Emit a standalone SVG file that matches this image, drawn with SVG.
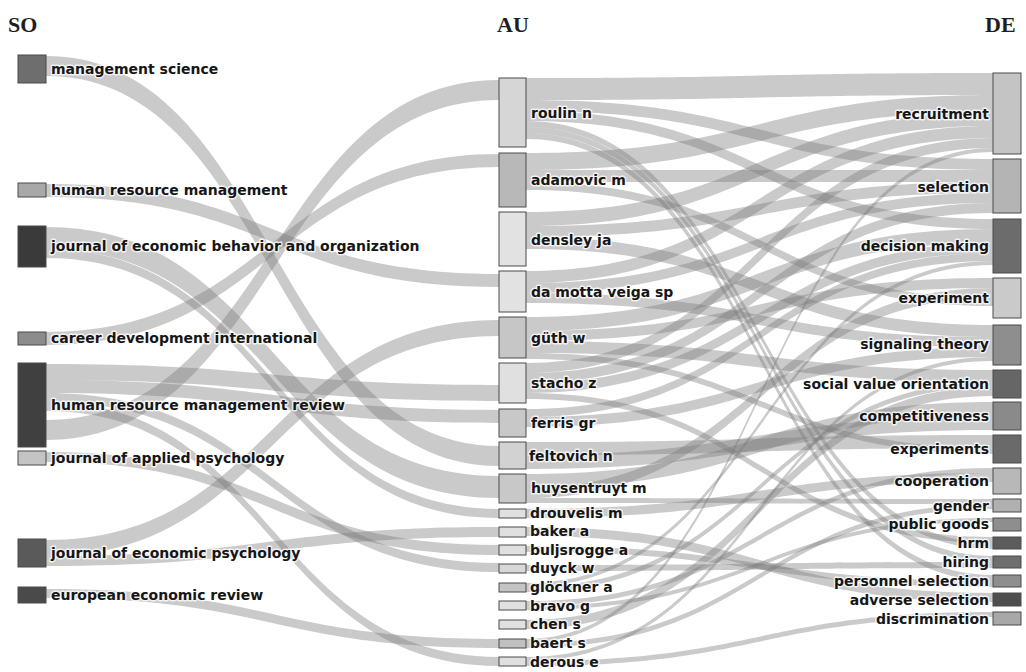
<svg xmlns="http://www.w3.org/2000/svg" width="1026" height="672" viewBox="0 0 1026 672">
<style>
.flow{fill:#7a7a7a;fill-opacity:0.4;stroke:none}
.node rect{stroke:#4a4a4a;stroke-width:1}
.lbl{font-family:"DejaVu Sans",Verdana,sans-serif;font-weight:bold;font-size:14px;fill:#161616;stroke:#ffffff;stroke-opacity:0.75;stroke-width:3px;paint-order:stroke;stroke-linejoin:round}
.end{text-anchor:end}
.title{font-family:"Liberation Serif","Times New Roman",serif;font-size:22px;font-weight:bold;fill:#1e1e1e}
</style>
<rect width="1026" height="672" fill="#ffffff"/>
<text class="title" x="8" y="32">SO</text>
<text class="title" x="497" y="32">AU</text>
<text class="title" x="985" y="32">DE</text>
<g id="connectors">
<path class="flow" d="M46,56C272,56 272,446 499,446L499,466C272,466 272,76 46,76Z"/>
<path class="flow" d="M46,184C272,184 272,274 499,274L499,287C272,287 272,197 46,197Z"/>
<path class="flow" d="M46,227C272,227 272,476 499,476L499,498C272,498 272,249 46,249Z"/>
<path class="flow" d="M46,249C272,249 272,509 499,509L499,518C272,518 272,258 46,258Z"/>
<path class="flow" d="M46,332C272,332 272,154 499,154L499,167C272,167 272,345 46,345Z"/>
<path class="flow" d="M46,364C272,364 272,385 499,385L499,401C272,401 272,380 46,380Z"/>
<path class="flow" d="M46,380C272,380 272,410 499,410L499,423C272,423 272,393 46,393Z"/>
<path class="flow" d="M46,393C272,393 272,563 499,563L499,572C272,572 272,402 46,402Z"/>
<path class="flow" d="M46,402C272,402 272,657 499,657L499,666C272,666 272,411 46,411Z"/>
<path class="flow" d="M46,420C272,420 272,80 499,80L499,100C272,100 272,440 46,440Z"/>
<path class="flow" d="M46,452C272,452 272,545 499,545L499,555C272,555 272,462 46,462Z"/>
<path class="flow" d="M46,540C272,540 272,320 499,320L499,336C272,336 272,556 46,556Z"/>
<path class="flow" d="M46,556C272,556 272,527 499,527L499,537C272,537 272,566 46,566Z"/>
<path class="flow" d="M46,589C272,589 272,639 499,639L499,648C272,648 272,598 46,598Z"/>
<path class="flow" d="M526,78C760,78 760,73 993,73L993,95C760,95 760,100 526,100Z"/>
<path class="flow" d="M526,100C760,100 760,159 993,159L993,170C760,170 760,111 526,111Z"/>
<path class="flow" d="M526,111C760,111 760,219 993,219L993,229C760,229 760,121 526,121Z"/>
<path class="flow" d="M526,121C760,121 760,543 993,543L993,549C760,549 760,127 526,127Z"/>
<path class="flow" d="M526,127C760,127 760,556 993,556L993,562C760,562 760,133 526,133Z"/>
<path class="flow" d="M526,133C760,133 760,575 993,575L993,581C760,581 760,139 526,139Z"/>
<path class="flow" d="M526,153C760,153 760,95 993,95L993,112C760,112 760,170 526,170Z"/>
<path class="flow" d="M526,170C760,170 760,170 993,170L993,182C760,182 760,182 526,182Z"/>
<path class="flow" d="M526,182C760,182 760,298 993,298L993,306C760,306 760,190 526,190Z"/>
<path class="flow" d="M526,212C760,212 760,112 993,112L993,126C760,126 760,226 526,226Z"/>
<path class="flow" d="M526,226C760,226 760,182 993,182L993,193C760,193 760,237 526,237Z"/>
<path class="flow" d="M526,237C760,237 760,325 993,325L993,337C760,337 760,249 526,249Z"/>
<path class="flow" d="M526,271C760,271 760,126 993,126L993,138C760,138 760,283 526,283Z"/>
<path class="flow" d="M526,283C760,283 760,193 993,193L993,203C760,203 760,293 526,293Z"/>
<path class="flow" d="M526,293C760,293 760,337 993,337L993,347C760,347 760,303 526,303Z"/>
<path class="flow" d="M526,317C760,317 760,229 993,229L993,243C760,243 760,331 526,331Z"/>
<path class="flow" d="M526,331C760,331 760,278 993,278L993,288C760,288 760,341 526,341Z"/>
<path class="flow" d="M526,341C760,341 760,370 993,370L993,382C760,382 760,353 526,353Z"/>
<path class="flow" d="M526,353C760,353 760,448 993,448L993,454C760,454 760,359 526,359Z"/>
<path class="flow" d="M526,363C760,363 760,138 993,138L993,148C760,148 760,373 526,373Z"/>
<path class="flow" d="M526,373C760,373 760,203 993,203L993,213C760,213 760,383 526,383Z"/>
<path class="flow" d="M526,383C760,383 760,243 993,243L993,253C760,253 760,393 526,393Z"/>
<path class="flow" d="M526,393C760,393 760,537 993,537L993,543C760,543 760,399 526,399Z"/>
<path class="flow" d="M526,409C760,409 760,253 993,253L993,261C760,261 760,417 526,417Z"/>
<path class="flow" d="M526,417C760,417 760,347 993,347L993,357C760,357 760,427 526,427Z"/>
<path class="flow" d="M526,442C760,442 760,435 993,435L993,448C760,448 760,455 526,455Z"/>
<path class="flow" d="M526,455C760,455 760,416 993,416L993,430C760,430 760,469 526,469Z"/>
<path class="flow" d="M526,474C760,474 760,402 993,402L993,416C760,416 760,488 526,488Z"/>
<path class="flow" d="M526,488C760,488 760,288 993,288L993,298C760,298 760,498 526,498Z"/>
<path class="flow" d="M526,498C760,498 760,499 993,499L993,504C760,504 760,503 526,503Z"/>
<path class="flow" d="M526,509C760,509 760,473 993,473L993,482C760,482 760,518 526,518Z"/>
<path class="flow" d="M526,527C760,527 760,593 993,593L993,602C760,602 760,536 526,536Z"/>
<path class="flow" d="M526,546C760,546 760,581 993,581L993,587C760,587 760,552 526,552Z"/>
<path class="flow" d="M526,565C760,565 760,562 993,562L993,568C760,568 760,571 526,571Z"/>
<path class="flow" d="M526,583C760,583 760,261 993,261L993,265C760,265 760,587 526,587Z"/>
<path class="flow" d="M526,587C760,587 760,382 993,382L993,387C760,387 760,592 526,592Z"/>
<path class="flow" d="M526,601C760,601 760,468 993,468L993,473C760,473 760,606 526,606Z"/>
<path class="flow" d="M526,606C760,606 760,518 993,518L993,522C760,522 760,610 526,610Z"/>
<path class="flow" d="M526,620C760,620 760,387 993,387L993,396C760,396 760,629 526,629Z"/>
<path class="flow" d="M526,639C760,639 760,148 993,148L993,152C760,152 760,643 526,643Z"/>
<path class="flow" d="M526,643C760,643 760,504 993,504L993,509C760,509 760,648 526,648Z"/>
<path class="flow" d="M526,657C760,657 760,357 993,357L993,361C760,361 760,661 526,661Z"/>
<path class="flow" d="M526,661C760,661 760,612 993,612L993,617C760,617 760,666 526,666Z"/>
</g>
<g id="so-management-science" class="node"><rect x="18" y="55" width="28" height="28" fill="#6e6e6e"/><text class="lbl" x="51" y="74">management science</text></g>
<g id="so-human-resource-management" class="node"><rect x="18" y="183" width="28" height="14" fill="#a8a8a8"/><text class="lbl" x="51" y="195">human resource management</text></g>
<g id="so-jebo" class="node"><rect x="18" y="226" width="28" height="41" fill="#3a3a3a"/><text class="lbl" x="51" y="251">journal of economic behavior and organization</text></g>
<g id="so-career-development-international" class="node"><rect x="18" y="332" width="28" height="13" fill="#8c8c8c"/><text class="lbl" x="51" y="343">career development international</text></g>
<g id="so-hrmr" class="node"><rect x="18" y="363" width="28" height="84" fill="#404040"/><text class="lbl" x="51" y="410">human resource management review</text></g>
<g id="so-jap" class="node"><rect x="18" y="451" width="28" height="14" fill="#c4c4c4"/><text class="lbl" x="51" y="463">journal of applied psychology</text></g>
<g id="so-jep" class="node"><rect x="18" y="539" width="28" height="28" fill="#5a5a5a"/><text class="lbl" x="51" y="558">journal of economic psychology</text></g>
<g id="so-eer" class="node"><rect x="18" y="587" width="28" height="16" fill="#4a4a4a"/><text class="lbl" x="51" y="600">european economic review</text></g>
<g id="au-roulin" class="node"><rect x="499" y="78" width="27" height="69" fill="#d6d6d6"/><text class="lbl" x="531" y="118">roulin n</text></g>
<g id="au-adamovic" class="node"><rect x="499" y="153" width="27" height="54" fill="#b8b8b8"/><text class="lbl" x="531" y="185">adamovic m</text></g>
<g id="au-densley" class="node"><rect x="499" y="212" width="27" height="54" fill="#e2e2e2"/><text class="lbl" x="531" y="245">densley ja</text></g>
<g id="au-damotta" class="node"><rect x="499" y="271" width="27" height="41" fill="#e2e2e2"/><text class="lbl" x="531" y="297">da motta veiga sp</text></g>
<g id="au-guth" class="node"><rect x="499" y="317" width="27" height="41" fill="#c6c6c6"/><text class="lbl" x="531" y="343">güth w</text></g>
<g id="au-stacho" class="node"><rect x="499" y="363" width="27" height="40" fill="#e0e0e0"/><text class="lbl" x="531" y="388">stacho z</text></g>
<g id="au-ferris" class="node"><rect x="499" y="409" width="27" height="28" fill="#c8c8c8"/><text class="lbl" x="531" y="428">ferris gr</text></g>
<g id="au-feltovich" class="node"><rect x="499" y="442" width="27" height="27" fill="#d2d2d2"/><text class="lbl" x="529" y="461">feltovich n</text></g>
<g id="au-huysentruyt" class="node"><rect x="499" y="474" width="27" height="29" fill="#c8c8c8"/><text class="lbl" x="531" y="493">huysentruyt m</text></g>
<g id="au-drouvelis" class="node"><rect x="499" y="509" width="27" height="9" fill="#e0e0e0"/><text class="lbl" x="530" y="518">drouvelis m</text></g>
<g id="au-baker" class="node"><rect x="499" y="527" width="27" height="10" fill="#e0e0e0"/><text class="lbl" x="530" y="536">baker a</text></g>
<g id="au-buljsrogge" class="node"><rect x="499" y="545" width="27" height="10" fill="#e0e0e0"/><text class="lbl" x="530" y="555">buljsrogge a</text></g>
<g id="au-duyck" class="node"><rect x="499" y="564" width="27" height="9" fill="#d8d8d8"/><text class="lbl" x="530" y="573">duyck w</text></g>
<g id="au-glockner" class="node"><rect x="499" y="583" width="27" height="9" fill="#c4c4c4"/><text class="lbl" x="530" y="592">glöckner a</text></g>
<g id="au-bravo" class="node"><rect x="499" y="601" width="27" height="9" fill="#e0e0e0"/><text class="lbl" x="530" y="611">bravo g</text></g>
<g id="au-chen" class="node"><rect x="499" y="620" width="27" height="9" fill="#e0e0e0"/><text class="lbl" x="530" y="629">chen s</text></g>
<g id="au-baert" class="node"><rect x="499" y="639" width="27" height="9" fill="#c0c0c0"/><text class="lbl" x="530" y="648">baert s</text></g>
<g id="au-derous" class="node"><rect x="499" y="657" width="27" height="9" fill="#e0e0e0"/><text class="lbl" x="530" y="667">derous e</text></g>
<g id="de-recruitment" class="node"><rect x="993" y="73" width="28" height="81" fill="#c4c4c4"/><text class="lbl end" x="989" y="119">recruitment</text></g>
<g id="de-selection" class="node"><rect x="993" y="159" width="28" height="54" fill="#b4b4b4"/><text class="lbl end" x="989" y="192">selection</text></g>
<g id="de-decision-making" class="node"><rect x="993" y="219" width="28" height="54" fill="#6c6c6c"/><text class="lbl end" x="989" y="251">decision making</text></g>
<g id="de-experiment" class="node"><rect x="993" y="278" width="28" height="40" fill="#cacaca"/><text class="lbl end" x="989" y="303">experiment</text></g>
<g id="de-signaling-theory" class="node"><rect x="993" y="325" width="28" height="40" fill="#8e8e8e"/><text class="lbl end" x="989" y="349">signaling theory</text></g>
<g id="de-svo" class="node"><rect x="993" y="370" width="28" height="28" fill="#666666"/><text class="lbl end" x="989" y="389">social value orientation</text></g>
<g id="de-competitiveness" class="node"><rect x="993" y="402" width="28" height="28" fill="#8a8a8a"/><text class="lbl end" x="989" y="421">competitiveness</text></g>
<g id="de-experiments" class="node"><rect x="993" y="435" width="28" height="28" fill="#6a6a6a"/><text class="lbl end" x="989" y="454">experiments</text></g>
<g id="de-cooperation" class="node"><rect x="993" y="468" width="28" height="26" fill="#b8b8b8"/><text class="lbl end" x="989" y="486">cooperation</text></g>
<g id="de-gender" class="node"><rect x="993" y="499" width="28" height="13" fill="#b0b0b0"/><text class="lbl end" x="989" y="511">gender</text></g>
<g id="de-public-goods" class="node"><rect x="993" y="518" width="28" height="13" fill="#8e8e8e"/><text class="lbl end" x="989" y="529">public goods</text></g>
<g id="de-hrm" class="node"><rect x="993" y="537" width="28" height="12" fill="#5c5c5c"/><text class="lbl end" x="989" y="548">hrm</text></g>
<g id="de-hiring" class="node"><rect x="993" y="556" width="28" height="12" fill="#6e6e6e"/><text class="lbl end" x="989" y="567">hiring</text></g>
<g id="de-personnel-selection" class="node"><rect x="993" y="575" width="28" height="12" fill="#8e8e8e"/><text class="lbl end" x="989" y="586">personnel selection</text></g>
<g id="de-adverse-selection" class="node"><rect x="993" y="593" width="28" height="13" fill="#4e4e4e"/><text class="lbl end" x="989" y="605">adverse selection</text></g>
<g id="de-discrimination" class="node"><rect x="993" y="612" width="28" height="13" fill="#a8a8a8"/><text class="lbl end" x="989" y="624">discrimination</text></g>
</svg>
